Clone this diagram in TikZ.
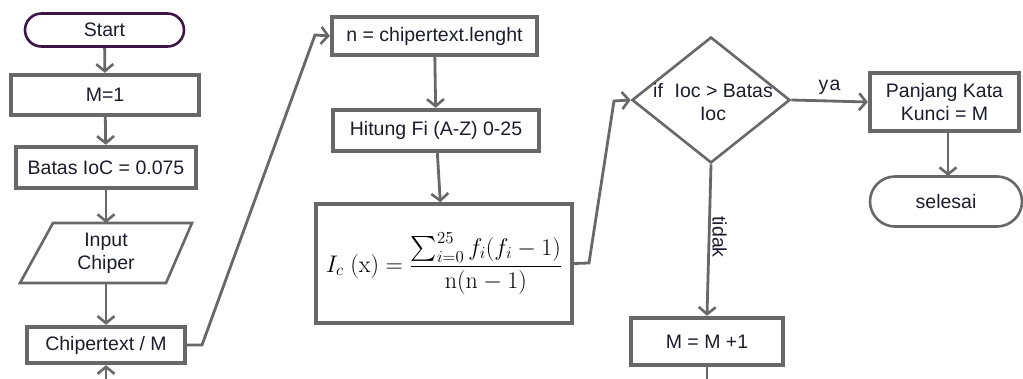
\documentclass[tikz,border=0pt]{standalone}
\usepackage{fix-cm}
\usepackage{exscale}
\usepackage[no-math]{fontspec}
\setmainfont{Liberation Sans}
\usetikzlibrary{arrows.meta,shapes.geometric,shapes.misc}
\definecolor{lc}{HTML}{686868}
\definecolor{tc}{HTML}{1C1C2C}
\definecolor{pur}{HTML}{3C1446}
\tikzset{
  arr/.style={draw=lc,line width=2.8pt,-{Straight Barb[length=7pt,width=17pt,line width=2.6pt]}},
  ln/.style={draw=lc,line width=2.8pt},
  pbox/.style={rectangle,draw=lc,line width=4.4pt,fill=white,text=tc,inner sep=2pt,align=center,font=\fontsize{19.5}{23}\selectfont},
  term/.style={rounded rectangle,draw=lc,line width=2.6pt,fill=white,text=tc,inner sep=2pt,font=\fontsize{19.5}{23}\selectfont},
  txt/.style={text=tc,inner sep=0pt,align=center,font=\fontsize{19.5}{23}\selectfont},
}
\begin{document}
\begin{tikzpicture}[x=1pt,y=-1pt]
\useasboundingbox[fill=white] (0,0) rectangle (1023,379);
% column 1
\node[term,draw=pur,minimum width=163,minimum height=33] (start) at (104.5,30) {Start};
\node[pbox,minimum width=188,minimum height=40] (m1) at (105,95) {M=1};
\node[pbox,minimum width=180,minimum height=41] (batas) at (106,167.5) {Batas IoC = 0.075};
\draw[lc,line width=2.6pt,fill=white] (53,223) -- (192,223) -- (166,283) -- (20,283) -- cycle;
\node[txt] (inp) at (106,253) {Input\\Chiper};
\coordinate (inpT) at (106,223);
\coordinate (inpB) at (106,283);
\node[pbox,minimum width=158,minimum height=36] (chip) at (106,345) {Chipertext / M};
\coordinate (chipIn) at (106,382);
\draw[arr] (start) -- (m1);
\draw[arr] (m1) -- (batas);
\draw[arr] (batas) -- (inpT);
\draw[arr] (inpB) -- (chip);
\draw[arr] (chipIn) -- (chip);
% column 2
\node[pbox,minimum width=205,minimum height=38] (n) at (434.5,36) {n = chipertext.lenght};
\node[pbox,minimum width=206,minimum height=41] (hit) at (436,130.5) {Hitung Fi (A-Z) 0-25};
\node[pbox,line width=3.6pt,minimum width=256,minimum height=119,text=black,font=\fontsize{24}{28}\selectfont] (form) at (444,263.5)
  {$\displaystyle I_c\;(\mathrm{x}) = \frac{\sum_{i=0}^{25} f_i(f_i-1)}{\mathrm{n}(\mathrm{n}-1)}$};
\coordinate (c1) at (202,345);
\coordinate (c2) at (315,35);
\draw[arr] (chip.east) -- (c1) -- (c2) -- (n.west);
\draw[arr] (n) -- (hit);
\draw[arr] (hit) -- (form);
% column 3
\node[diamond,draw=lc,line width=2.6pt,fill=white,minimum width=158,minimum height=126,inner sep=0pt] (dia) at (711,100) {};
\node[txt] (diat) at (713,102) {if\hspace{0.6em}Ioc > Batas\\Ioc};
\coordinate (c3) at (589,263);
\coordinate (c4) at (614,101);
\draw[arr] (form.east) -- (c3) -- (c4) -- (dia.west);
\node[pbox,minimum width=149,minimum height=58] (pk) at (944.5,102) {Panjang Kata\\Kunci = M};
\node[term,minimum width=156,minimum height=50] (sel) at (946,201.5) {selesai};
\node[pbox,minimum width=152,minimum height=47] (mm) at (707,341.5) {M = M +1};
\coordinate (mmOut) at (707,382);
\coordinate (pkO) at (948,133);
\coordinate (selI) at (948,176);
\draw[arr] (dia.east) -- node[txt,above=5pt] {y\kern1.5pt a} (pk.west);
\draw[arr] (pkO) -- (selI);
\draw[arr] (dia.south) -- node[txt,rotate=-90,anchor=south,yshift=2pt,pos=0.48] {tidak} (mm.north);
\draw[ln] (mm.south) -- (mmOut);
\end{tikzpicture}
\end{document}
